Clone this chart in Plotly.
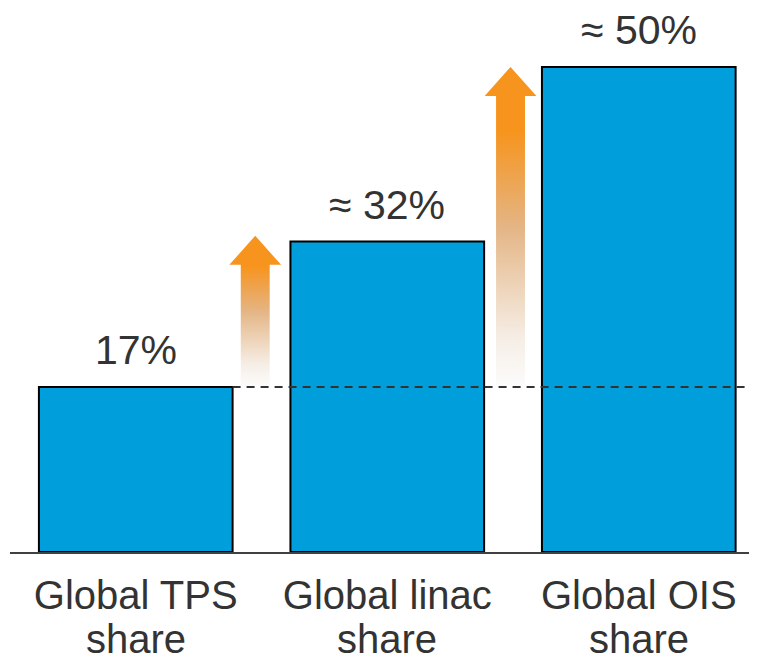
import plotly.graph_objects as go

category_line1 = ["Global TPS", "Global linac", "Global OIS"]
category_line2 = ["share", "share", "share"]
shares = [17, 32, 50]
value_labels = ["17%", "≈ 32%", "≈ 50%"]

BAR_COLOR = "#009EDB"
ORANGE = "#F7941D"
TEXT = "#333333"
FONT = "Liberation Sans, Arial, sans-serif"

x = list(range(len(category_line1)))

fig = go.Figure()
fig.add_trace(go.Bar(
    x=x, y=shares, width=0.77,
    marker=dict(color=BAR_COLOR, line=dict(color="black", width=2)),
    hoverinfo="skip", showlegend=False,
))

# gradient arrows between consecutive bars, from the first bar's level up to the next bar's level
arrow_offsets = [0.475, 0.49]
arrow_tip_pad = [0.6, 0.0]
hw, HW, hh = 0.0575, 0.103, 3.0
base = shares[0]
for i, off in enumerate(arrow_offsets):
    c = x[i] + off
    tip = shares[i + 1] + arrow_tip_pad[i]
    xs = [c - hw, c - hw, c - HW, c, c + HW, c + hw, c + hw, c - hw]
    ys = [base, tip - hh, tip - hh, tip, tip - hh, tip - hh, base, base]
    fig.add_trace(go.Scatter(
        x=xs, y=ys, mode="lines", fill="toself", line=dict(width=0, color="rgba(0,0,0,0)"),
        fillgradient=dict(type="vertical", start=base, stop=tip,
                          colorscale=[[0, "rgba(252,252,252,1)"], [0.15, "rgba(246,238,230,1)"],
                                      [0.5, "#E4B585"], [0.8, ORANGE], [1, ORANGE]]),
        hoverinfo="skip", showlegend=False,
    ))

# dashed reference line at first bar level
fig.add_shape(type="line", x0=x[0] + 0.385, x1=2.47, y0=shares[0], y1=shares[0],
              line=dict(color="#333333", width=2, dash="8px,6px"), layer="above")

for xi, v, t in zip(x, shares, value_labels):
    fig.add_annotation(x=xi, y=v, text=t, showarrow=False, yanchor="bottom", yshift=12,
                       font=dict(size=41, color=TEXT, family=FONT))

# second line of each category label (tighter line spacing than <br> gives)
for xi, t in zip(x, category_line2):
    fig.add_annotation(x=xi, xref="x", y=0, yref="paper", text=t, showarrow=False,
                       yanchor="top", yshift=-64, borderpad=0,
                       font=dict(size=40, color=TEXT, family=FONT))

# page body has an 8px default margin, so the figure is sized to fit the window
fig.update_layout(
    width=749, height=656,
    margin=dict(l=2, r=0, t=0, b=112),
    plot_bgcolor="white", paper_bgcolor="white",
    xaxis=dict(range=[-0.5, 2.47], tickvals=x, ticktext=category_line1, showgrid=False,
               zeroline=False, showline=True, linecolor="#404040", linewidth=2, ticks="",
               ticklabelstandoff=7, automargin=False,
               tickfont=dict(size=40, color=TEXT, family=FONT), fixedrange=True),
    yaxis=dict(range=[0, 56.08], visible=False, fixedrange=True, automargin=False),
    font=dict(family=FONT),
)

fig.write_html("out.html")
